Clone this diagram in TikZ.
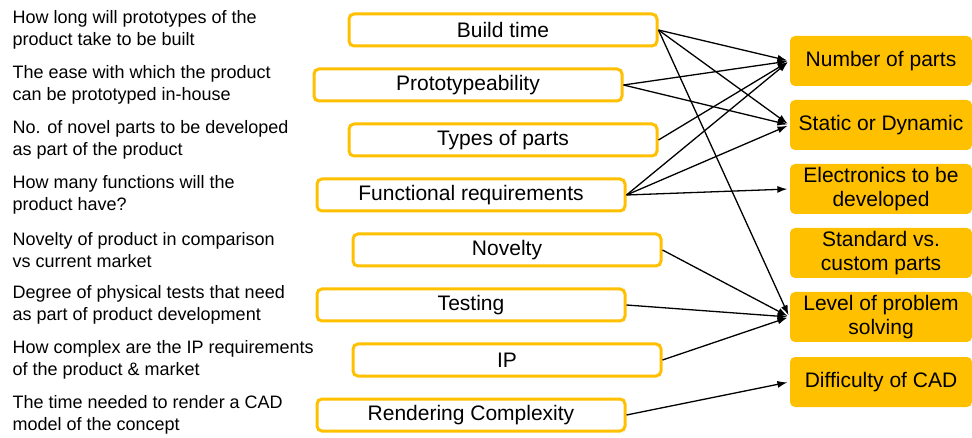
\documentclass[tikz,border=0pt]{standalone}
\usepackage{fontspec}
\setmainfont{Liberation Sans}
\usepackage{xcolor}
\usepackage{tikz}
\usetikzlibrary{arrows.meta,positioning}

\definecolor{gold}{HTML}{FFC000}

\begin{document}
\begin{tikzpicture}[x=1pt, y=-1pt, ->, >={Latex[length=10pt,width=7pt]}, line width=1.3pt, node distance=55pt]

\tikzstyle{factor}=[draw=gold, line width=3pt, fill=white, rounded corners=5pt, minimum width=308pt, minimum height=32pt, inner sep=0pt, font=\fontsize{21}{24}\selectfont]
\tikzstyle{impact}=[fill=gold, rounded corners=5pt, minimum width=182pt, minimum height=50pt, inner sep=0pt, align=center, font=\fontsize{21}{24}\selectfont]
\tikzstyle{desc}=[anchor=west, align=left, inner sep=0pt, font=\fontsize{18}{21.5}\selectfont]

\useasboundingbox (0,0) rectangle (972,438);

% factors in the middle
\node[factor] (Build) at (503,30) {Build time};
\node[factor] (Proto) [below of=Build, xshift=-35pt] {Prototypeability};
\node[factor] (Types) [below of=Proto, xshift=35pt] {Types of parts};
\node[factor] (Func) [below of=Types, xshift=-32pt] {Functional requirements};
\node[factor] (Novelty) [below of=Func, xshift=36pt] {Novelty};
\node[factor] (Testing) [below of=Novelty, xshift=-36pt] {Testing};
\node[factor] (IP) [below of=Testing, xshift=36pt] {IP};
\node[factor] (Render) [below of=IP, xshift=-36pt] {Rendering Complexity};

% descriptions on the left
\node[desc] (DescBuild) at (12,0 |- Build) {How long will prototypes of the\\product take to be built};
\node[desc] (DescProto) at (12,0 |- Proto) {The ease with which the product\\can be prototyped in-house};
\node[desc] (DescTypes) at (12,0 |- Types) {No. of novel parts to be developed\\as part of the product};
\node[desc] (DescFunc) at (12,0 |- Func) {How many functions will the\\product have?};
\node[desc] (DescNovelty) at (12,0 |- Novelty) {Novelty of product in comparison\\vs current market};
\node[desc] (DescTesting) at (12,0 |- Testing) {Degree of physical tests that need\\as part of product development};
\node[desc] (DescIP) at (12,0 |- IP) {How complex are the IP requirements\\of the product \& market};
\node[desc] (DescRender) at (12,0 |- Render) {The time needed to render a CAD\\model of the concept};

% impacts on the right
\node[impact] (NumParts) at (881,61) {Number of parts};
\node[impact] (Static) [below of=NumParts, node distance=64pt] {Static or Dynamic};
\node[impact] (Electronics) [below of=Static, node distance=64pt] {Electronics to be\\developed};
\node[impact] (Standard) [below of=Electronics, node distance=64pt] {Standard vs.\\custom parts};
\node[impact] (Level) [below of=Standard, node distance=64pt] {Level of problem\\solving};
\node[impact] (CAD) [below of=Level, node distance=65pt] {Difficulty of CAD};

\path[shorten >=2pt]
(Build.east) edge (NumParts.west)
(Build.east) edge (Static.west)
(Build.east) edge (Level.west)
(Proto.east) edge (NumParts.west)
(Proto.east) edge (Static.west)
(Types.east) edge (NumParts.west)
(Func.east) edge (NumParts.west)
(Func.east) edge (Static.west)
(Func.east) edge (Electronics.west)

(Novelty.east) edge (Level.west)
(Testing.east) edge (Level.west)
(IP.east) edge (Level.west)
(Render.east) edge (CAD.west);
\end{tikzpicture}
\end{document}
